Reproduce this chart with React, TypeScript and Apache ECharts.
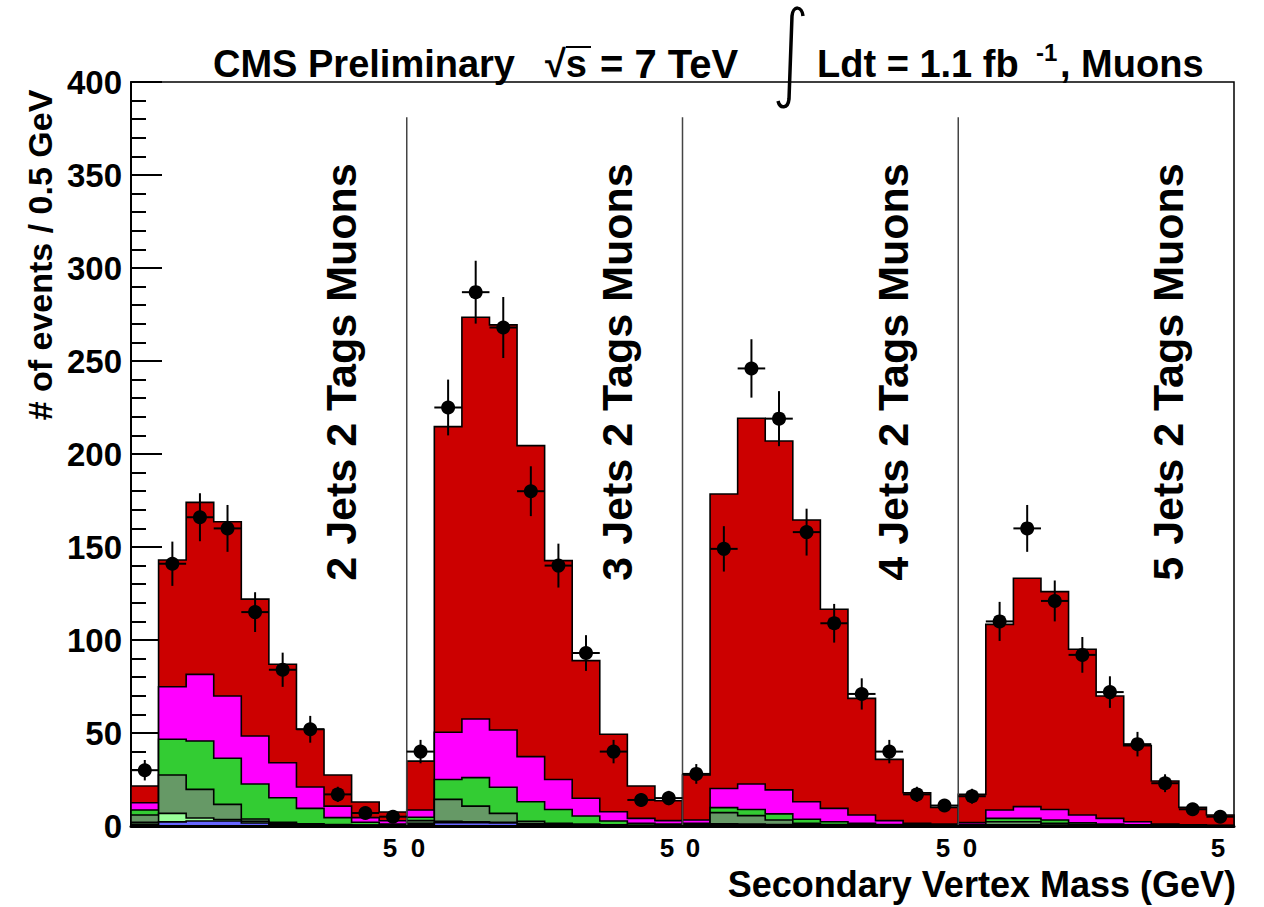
import React, { useEffect, useRef } from "react";
import * as echarts from "echarts";

const FONT = '"Liberation Sans", Arial, Helvetica, sans-serif';

// Four jet-multiplicity panels, each 10 bins of 0.5 GeV (0-5 GeV), laid side by side
const panelLabels = [
  "2 Jets 2 Tags Muons",
  "3 Jets 2 Tags Muons",
  "4 Jets 2 Tags Muons",
  "5 Jets 2 Tags Muons",
];
const binsPerPanel = 10;
const xTickLabels = ["5", "0", "5", "0", "5", "0", "5"];

// Stacked simulation components (events / 0.5 GeV), 40 bins = 4 panels x 10
const zJets = [
  1.0, 2.2, 2.7, 2.7, 1.6, 0.8, 0.4, 0.3, 0.2, 0.1,
  0.8, 1.8, 1.8, 1.6, 1.0, 0.6, 0.4, 0.3, 0.2, 0.1,
  0.3, 0.6, 0.6, 0.5, 0.4, 0.3, 0.2, 0.1, 0.1, 0.05,
  0.1, 0.3, 0.3, 0.2, 0.2, 0.1, 0.1, 0.05, 0, 0,
];
const wLight = [
  1.0, 4.6, 1.6, 0.8, 0.9, 0.7, 0.4, 0.3, 0.2, 0.1,
  0.7, 0.7, 0.5, 0.4, 0.2, 0.2, 0.1, 0.1, 0.1, 0.1,
  0.3, 0.6, 0.4, 0.3, 0.2, 0.1, 0.1, 0.1, 0, 0.05,
  0.2, 0.3, 0.3, 0.3, 0.1, 0.1, 0, 0.05, 0.05, 0.05,
];
const wCharm = [
  3.9, 20.6, 15.4, 8.1, 1.3, 0.5, 0.4, 0.2, 0.1, 0.1,
  1.4, 11.8, 8.4, 4.8, 1.3, 0.7, 0.5, 0.2, 0.1, 0.1,
  0.4, 6.0, 4.6, 2.4, 0.9, 0.4, 0.3, 0.2, 0.2, 0.1,
  0.2, 1.7, 1.7, 1.0, 0.5, 0.3, 0.2, 0.1, 0.05, 0.05,
];
const wBottom = [
  2.7, 19.2, 26.0, 24.8, 18.8, 13.2, 8.3, 3.7, 1.5, 0.7,
  1.8, 10.7, 15.3, 14.0, 10.5, 7.4, 4.4, 2.1, 1.1, 0.7,
  0.5, 2.7, 3.3, 3.3, 2.1, 1.5, 0.9, 0.4, 0.3, 0.2,
  0.3, 1.8, 1.8, 1.7, 0.9, 0.5, 0.3, 0.2, 0.2, 0.1,
];
const singleTop = [
  3.9, 28.3, 35.8, 33.5, 25.8, 18.8, 11.5, 6.2, 2.5, 1.8,
  3.9, 25.4, 31.5, 30.8, 24.3, 16.1, 9.5, 5.0, 2.6, 1.9,
  1.7, 10.3, 13.7, 12.9, 9.4, 7.2, 4.4, 2.1, 0.9, 0.6,
  1.0, 4.5, 6.3, 5.7, 4.2, 3.1, 1.7, 0.6, 0.3, 0.2,
];
const ttbar = [
  9.0, 68.1, 92.5, 93.7, 73.6, 53.0, 31.0, 16.7, 8.4, 4.7,
  26.3, 164.3, 216.0, 217.8, 167.2, 117.7, 74.0, 41.6, 17.4, 10.7,
  24.2, 158.3, 196.6, 187.6, 151.5, 107.0, 62.7, 32.9, 16.4, 9.0,
  15.2, 99.8, 122.8, 117.1, 89.1, 65.8, 40.9, 23.2, 9.4, 5.5,
];

// Observed data and their error bars
const dataCounts = [
  30, 141, 166, 160, 115, 84, 52, 17, 7, 5,
  40, 225, 287, 268, 180, 140, 93, 40, 14, 15,
  28, 149, 246, 219, 158, 109, 71, 40, 17, 11,
  16, 110, 160, 121, 92, 72, 44, 23, 9, 5,
];
const dataErrors = [
  5.5, 11.9, 12.9, 12.6, 10.7, 9.2, 7.2, 4.1, 2.6, 2.2,
  6.3, 15.0, 16.9, 16.4, 13.4, 11.8, 9.6, 6.3, 3.7, 3.9,
  5.3, 12.2, 15.7, 14.8, 12.6, 10.4, 8.4, 6.3, 4.1, 3.3,
  4.0, 10.5, 12.6, 11.0, 9.6, 8.5, 6.6, 4.8, 3.0, 2.2,
];

const components = [
  { name: "Z+jets", values: zJets, color: "#6666ff" },
  { name: "W+light", values: wLight, color: "#99ff99" },
  { name: "W+c", values: wCharm, color: "#669966" },
  { name: "W+b", values: wBottom, color: "#33cc33" },
  { name: "single top", values: singleTop, color: "#ff00ff" },
  { name: "ttbar", values: ttbar, color: "#cc0000" },
];

// panel separators (bin index) and their top (in y units)
const separatorBins = [10, 20, 30];
const separatorTop = 381;

const STYLE = {
  yLabelPos: [40, 255],
  panelLabelX: [341, 617, 893, 1168],
  panelLabelY: 372,
  xTickX: [390, 418, 667, 693, 943, 970, 1218],
  xTickY: 848,
};

export default function App() {
  const ref = useRef<HTMLDivElement>(null);
  useEffect(() => {
    if (!ref.current) return;
    echarts.graphic.registerShape(
      "integralSign",
      echarts.graphic.extendPath(
        "M 803 16 C 802 6, 793 5, 792 16 L 789 99 C 788 109, 780 109, 778 101",
        {}
      ) as any
    );
    const chart = echarts.init(ref.current, undefined, { renderer: "svg" });

    const nBins = dataCounts.length;
    // cumulative stack
    const cum: number[][] = [];
    components.forEach((c, k) => {
      cum.push(
        c.values.map((v, i) => v + (k > 0 ? cum[k - 1][i] : 0))
      );
    });

    const histSeries: any[] = [];
    for (let k = components.length - 1; k >= 0; k--) {
      const tops = cum[k];
      histSeries.push({
        type: "custom",
        name: components[k].name,
        coordinateSystem: "cartesian2d",
        z: 2,
        data: panelLabels.map((_, p) => [p * binsPerPanel, 0]),
        renderItem: (params: any, api: any) => {
          const start = api.value(0);
          const pts: number[][] = [api.coord([start, 0])];
          for (let b = 0; b < binsPerPanel; b++) {
            const i = start + b;
            pts.push(api.coord([i, tops[i]]));
            pts.push(api.coord([i + 1, tops[i]]));
          }
          pts.push(api.coord([start + binsPerPanel, 0]));
          return {
            type: "polygon",
            shape: { points: pts },
            style: { fill: components[k].color, stroke: "#000", lineWidth: 1.6 },
          };
        },
      });
    }

    const sepSeries = {
      type: "custom",
      coordinateSystem: "cartesian2d",
      z: 3,
      data: separatorBins.map((b) => [b, separatorTop]),
      renderItem: (params: any, api: any) => {
        const a = api.coord([api.value(0), 0]);
        const b = api.coord([api.value(0), api.value(1)]);
        return {
          type: "line",
          shape: { x1: a[0], y1: a[1], x2: b[0], y2: b[1] },
          style: { stroke: "#444", lineWidth: 1.5 },
        };
      },
    };

    const dataSeries = {
      type: "custom",
      name: "Data",
      coordinateSystem: "cartesian2d",
      z: 5,
      data: dataCounts.map((c, i) => [i + 0.5, c, dataErrors[i]]),
      renderItem: (params: any, api: any) => {
        const x = api.value(0);
        const y = api.value(1);
        const e = api.value(2);
        const c = api.coord([x, y]);
        const t = api.coord([x, y + e]);
        const bt = api.coord([x, Math.max(0, y - e)]);
        const l = api.coord([x - 0.5, y]);
        const r = api.coord([x + 0.5, y]);
        return {
          type: "group",
          children: [
            { type: "line", shape: { x1: c[0], y1: t[1], x2: c[0], y2: bt[1] }, style: { stroke: "#000", lineWidth: 2 } },
            { type: "line", shape: { x1: l[0], y1: c[1], x2: r[0], y2: c[1] }, style: { stroke: "#000", lineWidth: 2 } },
            { type: "circle", shape: { cx: c[0], cy: c[1], r: 7 }, style: { fill: "#000" } },
          ],
        };
      },
    };

    const titleFont = `bold 38px ${FONT}`;
    const graphics: any[] = [
      {
        type: "text",
        x: STYLE.yLabelPos[0],
        y: STYLE.yLabelPos[1],
        rotation: Math.PI / 2,
        style: {
          text: "# of events / 0.5 GeV",
          font: `bold 34px ${FONT}`,
          fill: "#000",
          align: "center",
          verticalAlign: "middle",
        },
      },
      ...panelLabels.map((t, p) => ({
        type: "text",
        x: STYLE.panelLabelX[p],
        y: STYLE.panelLabelY,
        rotation: Math.PI / 2,
        z: 10,
        style: {
          text: t,
          font: `bold 43px ${FONT}`,
          fill: "#000",
          align: "center",
          verticalAlign: "middle",
        },
      })),
      ...xTickLabels.map((t, i) => ({
        type: "text",
        x: STYLE.xTickX[i],
        y: STYLE.xTickY,
        style: {
          text: t,
          font: `bold 26px ${FONT}`,
          fill: "#000",
          align: "center",
          verticalAlign: "middle",
        },
      })),
      {
        type: "text",
        x: 1236,
        y: 884,
        style: {
          text: "Secondary Vertex Mass (GeV)",
          font: `bold 36px ${FONT}`,
          fill: "#000",
          align: "right",
          verticalAlign: "middle",
        },
      },
      // title
      {
        type: "text",
        x: 213,
        y: 64,
        style: { text: "CMS Preliminary", font: titleFont, fill: "#000", align: "left", verticalAlign: "middle" },
      },
      {
        type: "text",
        x: 545,
        y: 64,
        style: { text: "\u221As", font: titleFont, fill: "#000", align: "left", verticalAlign: "middle" },
      },
      {
        type: "text",
        x: 600,
        y: 64,
        style: { text: "= 7 TeV", font: `bold 40px ${FONT}`, fill: "#000", align: "left", verticalAlign: "middle" },
      },
      {
        type: "line",
        shape: { x1: 566, y1: 47, x2: 591, y2: 47 },
        style: { stroke: "#000", lineWidth: 2 },
      },
      {
        type: "integralSign",
        x: 0,
        y: 0,
        style: { stroke: "#000", lineWidth: 3.5, fill: null },
      },
      {
        type: "text",
        x: 817,
        y: 64,
        style: { text: "Ldt = 1.1 fb", font: titleFont, fill: "#000", align: "left", verticalAlign: "middle" },
      },
      {
        type: "text",
        x: 1036,
        y: 52,
        style: { text: "-1", font: `bold 24px ${FONT}`, fill: "#000", align: "left", verticalAlign: "middle" },
      },
      {
        type: "text",
        x: 1060,
        y: 64,
        style: { text: ", Muons", font: titleFont, fill: "#000", align: "left", verticalAlign: "middle" },
      },
    ];

    chart.setOption({
      animation: false,
      backgroundColor: "#fff",
      grid: {
        left: 131,
        right: 30,
        top: 82,
        bottom: 81,
        show: true,
        borderColor: "#000",
        borderWidth: 1.5,
        backgroundColor: "transparent",
      },
      xAxis: {
        type: "value",
        min: 0,
        max: nBins,
        z: 10,
        axisLine: { show: true, onZero: false, lineStyle: { color: "#000", width: 3 } },
        axisTick: { show: false },
        axisLabel: { show: false },
        splitLine: { show: false },
      },
      yAxis: {
        type: "value",
        min: 0,
        max: 400,
        interval: 50,
        axisLine: { show: true, lineStyle: { color: "#000", width: 2 } },
        axisTick: { show: true, inside: true, length: 31, lineStyle: { color: "#000", width: 2 } },
        minorTick: { show: true, splitNumber: 5, length: 15, lineStyle: { color: "#000", width: 2 } },
        axisLabel: {
          color: "#000",
          fontSize: 33,
          fontWeight: "bold",
          fontFamily: FONT,
          margin: 9,
        },
        splitLine: { show: false },
      },
      series: [...histSeries, sepSeries, dataSeries],
      graphic: graphics,
    });

    return () => chart.dispose();
  }, []);

  return (
    <div
      ref={ref}
      style={{ position: "absolute", left: 0, top: 0, width: 1264, height: 907 }}
    />
  );
}
